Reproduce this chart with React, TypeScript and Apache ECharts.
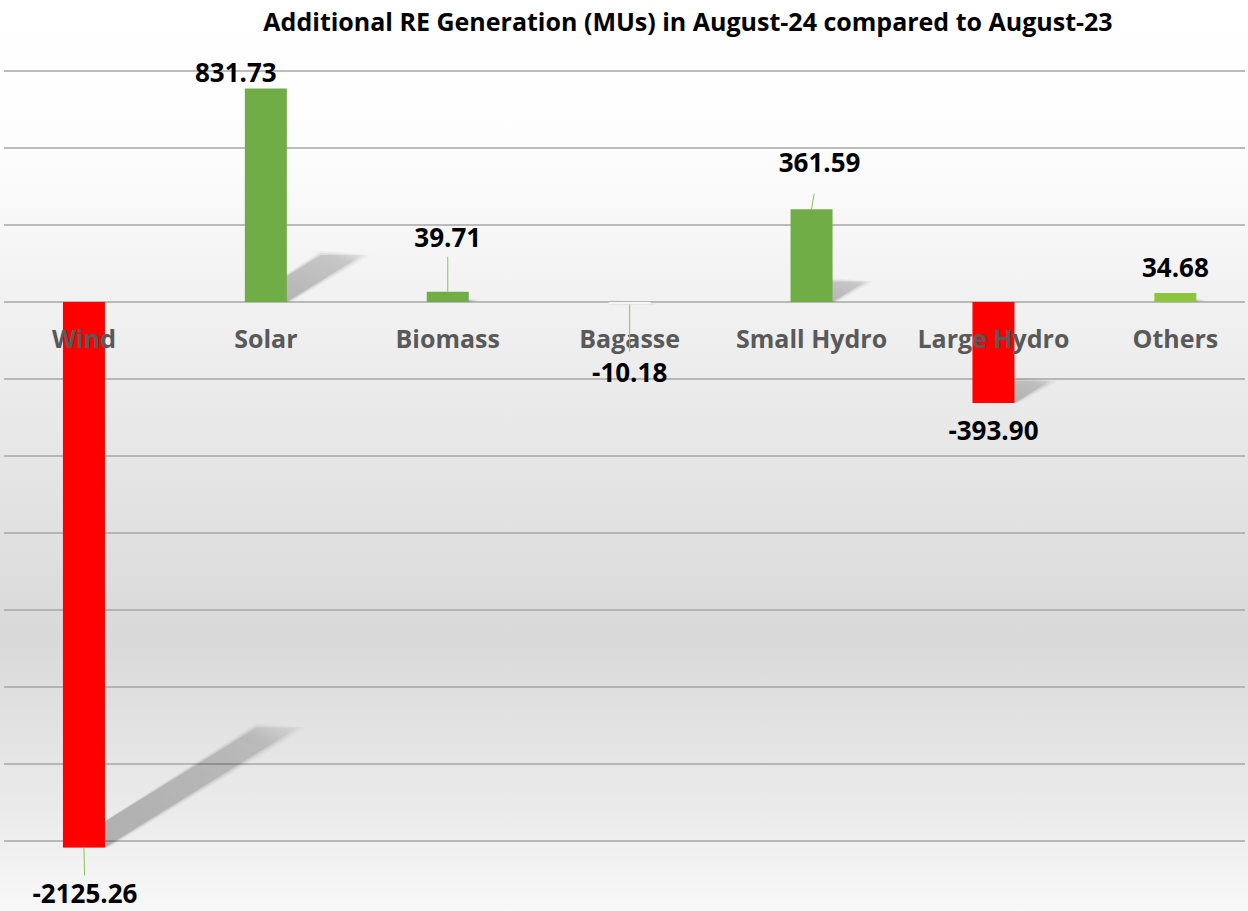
import React, { useEffect, useRef } from "react";
import * as echarts from "echarts";

const titleText = "Additional RE Generation (MUs) in August-24 compared to August-23";
const categories = ["Wind", "Solar", "Biomass", "Bagasse", "Small Hydro", "Large Hydro", "Others"];
const values = [-2125.26, 831.73, 39.71, -10.18, 361.59, -393.9, 34.68];
const yMin = -2100;
const yMax = 900;
const yInterval = 300;

// styling / layout config (not data)
const barColors = ["#FF0000", "#70AD47", "#70AD47", "#F5F5F5", "#70AD47", "#FF0000", "#8CC63F"];
// [dx, dy, leader gap] of each data label from the bar's end, in px
const labelPlacement: number[][] = [
  [1, 46, 18],
  [-30, -17, 0],
  [0, -55, 20],
  [0, 67, 20],
  [8, -47, 32],
  [0, 27, 0],
  [0, -26, 0],
];
const BAR_W = 42;
const GRID_TOP = 71;
const GRID_H = 770;
const FONT = "'Open Sans', Lato, sans-serif";

export default function App() {
  const ref = useRef<HTMLDivElement>(null);
  useEffect(() => {
    if (!ref.current) return;
    const chart = echarts.init(ref.current, null, { renderer: "svg" });
    const points = values.map((v, i) => [i, v]);
    // move the category axis from the grid bottom up to the zero line
    const zeroOffset = -GRID_H * ((0 - yMin) / (yMax - yMin));
    const option: any = {
      animation: false,
      graphic: [
        {
          type: "rect",
          z: -100,
          silent: true,
          shape: { x: 0, y: 0, width: 1248, height: 911 },
          style: {
            fill: new echarts.graphic.LinearGradient(0, 0, 0, 1, [
              { offset: 0, color: "#ffffff" },
              { offset: 0.16, color: "#fdfdfd" },
              { offset: 0.38, color: "#eeeeee" },
              { offset: 0.7, color: "#d9d9d9" },
              { offset: 0.9, color: "#ececec" },
              { offset: 1, color: "#f8f8f8" },
            ]),
          },
        },
        {
          type: "text",
          x: 688,
          y: 21,
          z: 10,
          style: {
            text: titleText,
            align: "center",
            verticalAlign: "middle",
            fill: "#000000",
            font: `bold 25px ${FONT}`,
          },
        },
      ],
      grid: [
        {
          left: -7,
          width: 7 * 181.9,
          top: GRID_TOP,
          height: GRID_H,
          outerBoundsMode: "none",
          containLabel: false,
        },
        { left: 4, right: 3, top: GRID_TOP, height: GRID_H, outerBoundsMode: "none", containLabel: false },
      ],
      xAxis: [
        {
          type: "category",
          gridIndex: 0,
          data: categories,
          z: 5,
          position: "bottom",
          offset: zeroOffset,
          axisLine: { show: false, onZero: false },
          axisTick: { show: false },
          splitLine: { show: false },
          axisLabel: {
            interval: 0,
            margin: 23,
            color: "#595959",
            fontFamily: FONT,
            fontWeight: "bold",
            fontSize: 25,
          },
        },
        { type: "value", gridIndex: 1, min: 0, max: 1, show: false },
      ],
      yAxis: [
        {
          type: "value",
          gridIndex: 0,
          min: yMin,
          max: yMax,
          interval: yInterval,
          show: false,
        },
        {
          type: "value",
          gridIndex: 1,
          min: yMin,
          max: yMax,
          interval: yInterval,
          axisLine: { show: false },
          axisTick: { show: false },
          axisLabel: { show: false },
          splitLine: { show: true, lineStyle: { color: "#a6a6a6", width: 1.6 } },
        },
      ],
      series: [
        {
          type: "custom",
          name: "shadow",
          xAxisIndex: 0,
          yAxisIndex: 0,
          z: 1,
          clip: false,
          silent: true,
          data: points,
          renderItem: (params: any, api: any) => {
            const i = api.value(0);
            const v = api.value(1);
            const p0 = api.coord([i, 0]);
            const p1 = api.coord([i, v]);
            const yb = Math.max(p0[1], p1[1]);
            const h = Math.abs(p0[1] - p1[1]);
            const dx = 0.355 * h;
            const dy = 0.22 * h;
            // a few nested parallelograms imitate the soft edge of the shadow
            const layers = [
              { grow: 4, a0: 0.05, a1: 0.02 },
              { grow: 2, a0: 0.08, a1: 0.04 },
              { grow: 0, a0: 0.17, a1: 0.08 },
            ];
            return {
              type: "group",
              children: layers.map((l) => {
                const x0 = p0[0] - BAR_W / 2 + l.grow;
                const x1 = p0[0] + BAR_W / 2 + l.grow;
                return {
                  type: "polygon",
                  shape: {
                    points: [
                      [x0 - l.grow, yb],
                      [x1, yb],
                      [x1 + dx + l.grow, yb - dy],
                      [x0 + dx - l.grow, yb - dy - l.grow],
                    ],
                  },
                  style: {
                    fill: new echarts.graphic.LinearGradient(0, 1, 1, 0, [
                      { offset: 0, color: `rgba(0,0,0,${l.a0})` },
                      { offset: 0.85, color: `rgba(0,0,0,${l.a1 + 0.02})` },
                      { offset: 1, color: `rgba(0,0,0,${l.a1 / 3})` },
                    ]),
                  },
                };
              }),
            };
          },
        },
        {
          type: "bar",
          name: "Additional RE Generation",
          xAxisIndex: 0,
          yAxisIndex: 0,
          z: 2,
          barWidth: BAR_W,
          clip: false,
          data: values.map((v, i) => ({ value: v, itemStyle: { color: barColors[i] } })),
        },
        {
          type: "custom",
          name: "labels",
          xAxisIndex: 0,
          yAxisIndex: 0,
          z: 6,
          clip: false,
          silent: true,
          data: points,
          renderItem: (params: any, api: any) => {
            const i = api.value(0);
            const v = api.value(1);
            const p1 = api.coord([i, v]);
            const [ox, oy, gap] = labelPlacement[i];
            const cx = p1[0] + ox;
            const cy = p1[1] + oy;
            const children: any[] = [];
            if (gap > 0) {
              const len = Math.sqrt(ox * ox + oy * oy);
              children.push({
                type: "line",
                shape: {
                  x1: p1[0],
                  y1: p1[1],
                  x2: cx - (ox / len) * gap,
                  y2: cy - (oy / len) * gap,
                },
                style: { stroke: "#8cc05a", lineWidth: 1 },
              });
            }
            children.push({
              type: "text",
              x: cx,
              y: cy,
              style: {
                text: values[i].toFixed(2),
                align: "center",
                verticalAlign: "middle",
                fill: "#000000",
                font: `bold 26px ${FONT}`,
              },
            });
            return { type: "group", children };
          },
        },
      ],
    };
    chart.setOption(option);
    return () => chart.dispose();
  }, []);
  return (
    <div
      ref={ref}
      style={{ position: "absolute", left: 0, top: 0, width: 1248, height: 911 }}
    />
  );
}
